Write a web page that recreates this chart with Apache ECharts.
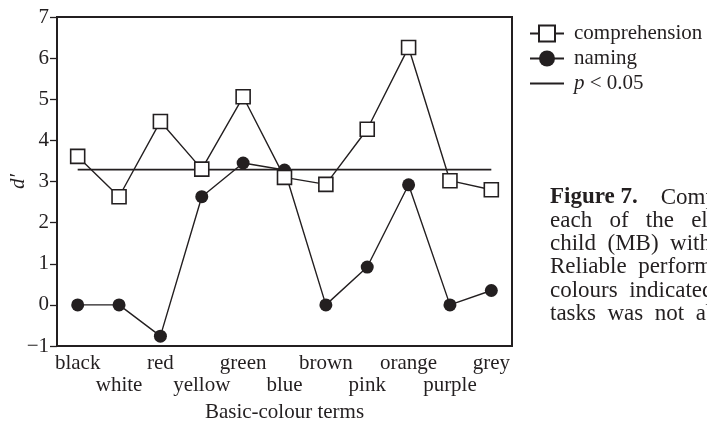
<!DOCTYPE html>
<html><head><meta charset="utf-8">
<script src="https://cdn.jsdelivr.net/npm/echarts@6/dist/echarts.min.js"></script>
<style>html,body{margin:0;padding:0;background:#fff}#c{width:707px;height:425px}</style>
</head><body><div id="c"></div>
<script>
const categories = ['black','white','red','yellow','green','blue','brown','pink','orange','purple','grey'];
const comprehension = [3.61, 2.63, 4.46, 3.30, 5.06, 3.10, 2.93, 4.27, 6.26, 3.02, 2.80];
const naming = [0, 0, -0.76, 2.63, 3.45, 3.28, 0, 0.92, 2.92, 0, 0.35];
const threshold = [3.29, 3.29, 3.29, 3.29, 3.29, 3.29, 3.29, 3.29, 3.29, 3.29, 3.29];
const yMin = -1, yMax = 7, yStep = 1;
const seriesNames = ['comprehension', 'naming', 'p < 0.05'];
const captionLines = [
  '{b|Figure 7.}    Comprehension',
  'each   of   the   eleven',
  'child  (MB)  with',
  'Reliable  performance',
  'colours  indicated',
  'tasks  was  not  above'
];

const INK = '#231f20';
const FONT = 'Liberation Serif';
const FS = 21;

const chart = echarts.init(document.getElementById('c'), null, {renderer: 'canvas'});

const graphics = captionLines.map((t, i) => ({
  type: 'text',
  left: 550,
  top: 186 + i * 23.3,
  style: {
    text: t,
    fill: INK,
    font: '23px "' + FONT + '"',
    rich: { b: { fontWeight: 'bold', fontFamily: FONT, fontSize: 23, fill: INK } }
  }
}));

chart.setOption({
  animation: false,
  backgroundColor: '#fff',
  grid: { left: 57, right: 195, top: 17, bottom: 79, show: true, borderColor: INK, borderWidth: 2,
    containLabel: false, outerBoundsMode: 'none' },
  legend: {
    left: 529, top: 23, orient: 'vertical', itemWidth: 34, itemHeight: 20, itemGap: 4, padding: 0,
    data: [
      { name: seriesNames[0] },
      { name: seriesNames[1] },
      { name: seriesNames[2], itemStyle: { opacity: 0 } }
    ],
    textStyle: { fontFamily: FONT, fontSize: FS, color: INK, padding: [0, 0, 0, 5],
      rich: { i: { fontStyle: 'italic', fontFamily: FONT, fontSize: FS, color: INK } } },
    formatter: n => n === 'p < 0.05' ? '{i|p} < 0.05' : n,
    selectedMode: false
  },
  xAxis: {
    type: 'category', data: categories, boundaryGap: true,
    name: 'Basic-colour terms', nameLocation: 'middle', nameGap: 56,
    nameTextStyle: { fontFamily: FONT, fontSize: FS, color: INK },
    axisLine: { onZero: false, lineStyle: { color: INK, width: 2 } },
    axisTick: { alignWithLabel: true, length: 5, lineStyle: { color: INK, width: 1.3 } },
    axisLabel: { interval: 0, margin: 6, fontFamily: FONT, fontSize: FS, color: INK, lineHeight: 22,
      formatter: (v, i) => (i % 2 === 1 ? '\n' + v : v) },
    splitLine: { show: false }
  },
  yAxis: {
    type: 'value', min: yMin, max: yMax, interval: yStep,
    name: 'd′', nameLocation: 'middle', nameGap: 28, nameRotate: 90, nameMoveOverlap: false,
    nameTextStyle: { fontFamily: FONT, fontSize: FS, fontStyle: 'italic', color: INK },
    axisLine: { show: true, lineStyle: { color: INK, width: 2 } },
    axisTick: { show: true, length: 7, lineStyle: { color: INK, width: 1.3 } },
    axisLabel: { margin: 8, fontFamily: FONT, fontSize: FS, color: INK,
      formatter: v => (v < 0 ? '\u2212' + Math.abs(v) : String(v)) },
    splitLine: { show: false }
  },
  series: [
    { name: 'p < 0.05', type: 'line', data: threshold, symbol: 'none', showSymbol: false,
      lineStyle: { color: INK, width: 1.8 }, itemStyle: { color: INK }, z: 2 },
    { name: 'naming', type: 'line', data: naming, symbol: 'circle', symbolSize: 13,
      lineStyle: { color: INK, width: 1.4 }, itemStyle: { color: INK, borderColor: INK, borderWidth: 0 }, z: 3 },
    { name: 'comprehension', type: 'line', data: comprehension, symbol: 'rect', symbolSize: 14,
      lineStyle: { color: INK, width: 1.4 }, itemStyle: { color: '#fff', borderColor: INK, borderWidth: 1.6 }, z: 4 }
  ],
  graphic: graphics
});
</script></body></html>
